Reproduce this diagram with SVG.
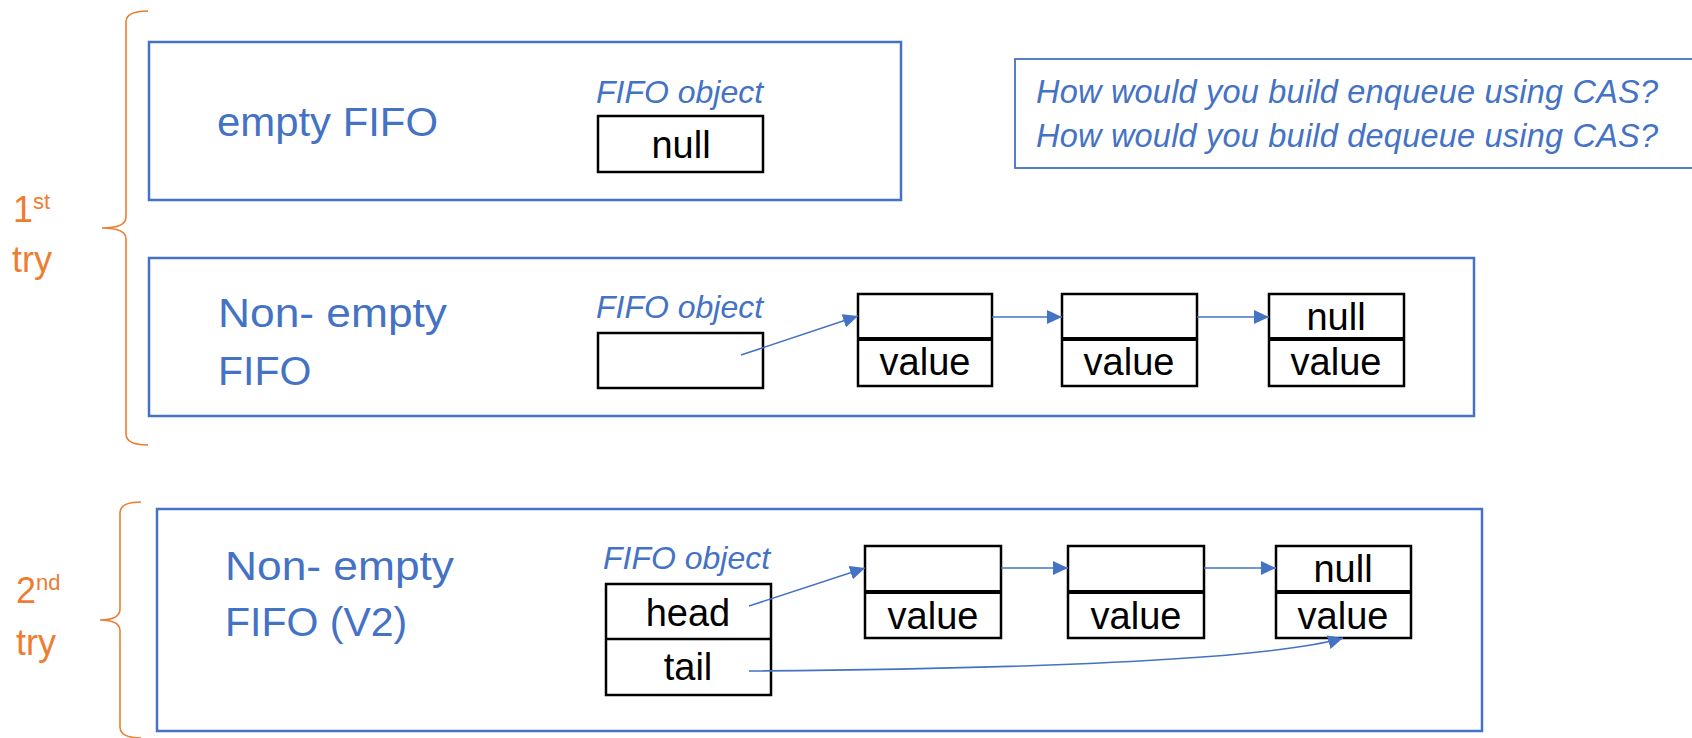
<svg xmlns="http://www.w3.org/2000/svg" width="1692" height="738" viewBox="0 0 1692 738">
<defs>
<style>
.frame{fill:#fff;stroke:#4472C4;stroke-width:2.5}
.qframe{fill:#fff;stroke:#4472C4;stroke-width:1.8}
.cell{fill:#fff;stroke:#000;stroke-width:2.5}
.div{stroke:#000;stroke-width:4}
.title{font-family:"Liberation Sans",Arial,sans-serif;font-size:41px;fill:#4472C4}
.lbl{font-family:"Liberation Sans",Arial,sans-serif;font-size:32px;font-style:italic;fill:#4472C4}
.q{font-family:"Liberation Sans",Arial,sans-serif;font-size:32.5px;font-style:italic;fill:#4472C4}
.txt{font-family:"Liberation Sans",Arial,sans-serif;font-size:38px;fill:#000;text-anchor:middle}
.try{font-family:"Liberation Sans",Arial,sans-serif;font-size:36px;fill:#ED7D31}
.sup{font-size:22px}
.brace{fill:none;stroke:#ED7D31;stroke-width:1.6}
.conn{fill:none;stroke:#4472C4;stroke-width:1.6}
</style>
<marker id="ah" markerUnits="userSpaceOnUse" markerWidth="16" markerHeight="14" refX="15" refY="7" orient="auto">
<path d="M0,0 L15,7 L0,14 Z" fill="#4472C4"/>
</marker>
</defs>
<rect width="1692" height="738" fill="#fff"/>

<g id="brace1">
<path class="brace" d="M148,11 C134,11 126,14 126,22 L126,217 C126,224 120,228 102,228 C120,228 126,232 126,239 L126,434 C126,442 134,445 148,445"/>
<text class="try" x="13" y="222">1<tspan class="sup" dy="-13">st</tspan></text>
<text class="try" x="12" y="272">try</text>
</g>

<g id="brace2">
<path class="brace" d="M141,502 C128,502 120,505 120,513 L120,609 C120,616 114,620 100,620 C114,620 120,624 120,631 L120,727 C120,735 128,738 141,738"/>
<text class="try" x="16" y="603">2<tspan class="sup" dy="-13">nd</tspan></text>
<text class="try" x="16" y="655">try</text>
</g>

<g id="empty-fifo">
<rect class="frame" x="149" y="42" width="752" height="158"/>
<text class="title" x="217" y="136" textLength="221" lengthAdjust="spacingAndGlyphs">empty FIFO</text>
<text class="lbl" x="596" y="103">FIFO object</text>
<rect class="cell" x="598" y="116" width="165" height="56"/>
<text class="txt" x="681" y="158">null</text>
</g>

<g id="question">
<rect class="qframe" x="1015" y="59" width="690" height="109"/>
<text class="q" x="1036" y="103" textLength="622" lengthAdjust="spacing">How would you build enqueue using CAS?</text>
<text class="q" x="1036" y="147" textLength="622" lengthAdjust="spacing">How would you build dequeue using CAS?</text>
</g>

<g id="nonempty-fifo">
<rect class="frame" x="149" y="258" width="1325" height="158"/>
<text class="title" x="218" y="327" textLength="229" lengthAdjust="spacingAndGlyphs">Non- empty</text>
<text class="title" x="218" y="385">FIFO</text>
<text class="lbl" x="596" y="318">FIFO object</text>
<rect class="cell" x="598" y="333" width="165" height="55"/>
</g>

<g id="node1a">
<rect class="cell" x="858" y="294" width="134" height="92"/>
<line class="div" x1="858" y1="339" x2="992" y2="339"/>
<text class="txt" x="925" y="375">value</text>
</g>
<g id="node2a">
<rect class="cell" x="1062" y="294" width="135" height="92"/>
<line class="div" x1="1062" y1="339" x2="1197" y2="339"/>
<text class="txt" x="1129" y="375">value</text>
</g>
<g id="node3a">
<rect class="cell" x="1269" y="294" width="135" height="92"/>
<line class="div" x1="1269" y1="339" x2="1404" y2="339"/>
<text class="txt" x="1336" y="330">null</text>
<text class="txt" x="1336" y="375">value</text>
</g>

<g id="nonempty-fifo-v2">
<rect class="frame" x="157" y="509" width="1325" height="222"/>
<text class="title" x="225" y="580" textLength="229" lengthAdjust="spacingAndGlyphs">Non- empty</text>
<text class="title" x="225" y="636">FIFO (V2)</text>
<text class="lbl" x="603" y="569">FIFO object</text>
<rect class="cell" x="606" y="584" width="165" height="111"/>
<line class="cell" x1="606" y1="639" x2="771" y2="639"/>
<text class="txt" x="688" y="626">head</text>
<text class="txt" x="688" y="680">tail</text>
</g>

<g id="node1b">
<rect class="cell" x="865" y="546" width="136" height="92"/>
<line class="div" x1="865" y1="592" x2="1001" y2="592"/>
<text class="txt" x="933" y="629">value</text>
</g>
<g id="node2b">
<rect class="cell" x="1068" y="546" width="136" height="92"/>
<line class="div" x1="1068" y1="592" x2="1204" y2="592"/>
<text class="txt" x="1136" y="629">value</text>
</g>
<g id="node3b">
<rect class="cell" x="1276" y="546" width="135" height="92"/>
<line class="div" x1="1276" y1="592" x2="1411" y2="592"/>
<text class="txt" x="1343" y="582">null</text>
<text class="txt" x="1343" y="629">value</text>
</g>

<g id="connectors">
<path class="conn" marker-end="url(#ah)" d="M741,355 L858,316"/>
<path class="conn" marker-end="url(#ah)" d="M992,317 L1062,317"/>
<path class="conn" marker-end="url(#ah)" d="M1197,317 L1269,317"/>
<path class="conn" marker-end="url(#ah)" d="M749,606 L865,568"/>
<path class="conn" marker-end="url(#ah)" d="M1001,568 L1068,568"/>
<path class="conn" marker-end="url(#ah)" d="M1204,568 L1276,568"/>
<path class="conn" marker-end="url(#ah)" d="M749,671 C1000,669 1260,662 1343,638"/>
</g>
</svg>
